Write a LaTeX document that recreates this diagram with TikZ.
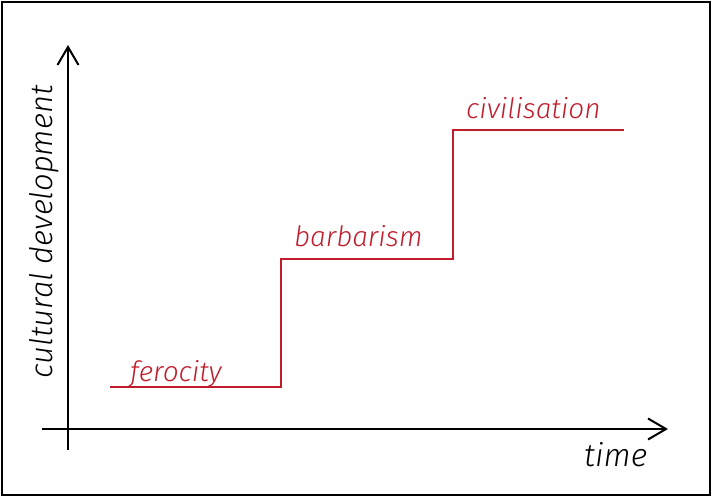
\documentclass[tikz,border=0pt]{standalone}
\usepackage{fontspec}
\newfontfamily\handfont{Fira Sans Light Italic}
\usetikzlibrary{arrows.meta,positioning,calc}
\definecolor{STEP-RED}{RGB}{192, 28, 44}

\begin{document}
\begin{tikzpicture}[x=1pt,y=-1pt,
  axis/.style={line width=1.8pt, -{Straight Barb[length=18pt,width=21pt,line width=2pt]}},
  stepline/.style={STEP-RED, line width=1.8pt},
  hand/.style={font=\handfont\fontsize{28}{32}\selectfont, inner sep=0pt}]
  % Frame
  \useasboundingbox (0,0) rectangle (712,497);
  \draw[line width=2pt] (2,2) rectangle (710,495);

  % Axes
  \coordinate (y0) at (68,450);
  \coordinate (y1) at (68,45);
  \coordinate (x0) at (42,429);
  \coordinate (x1) at (668,429);
  \draw[axis] (y0) -- (y1);
  \draw[axis] (x0) -- (x1);
  \node[hand, rotate=90, font=\handfont\fontsize{31}{34}\selectfont] (ylabel) at (44,232) {cultural development};
  \node[hand, anchor=base west, font=\handfont\fontsize{32}{36}\selectfont] (xlabel) at (584,466) {time};

  % Steps
  \coordinate (s0) at (110,387);
  \coordinate (s1) at (281,387);
  \coordinate (s2) at (281,259);
  \coordinate (s3) at (453,259);
  \coordinate (s4) at (453,130);
  \coordinate (s5) at (624,130);
  \draw[stepline] (s0) -- (s1) -- (s2) -- (s3) -- (s4) -- (s5);

  % Stage labels
  \node[hand, STEP-RED, anchor=base west] (ferocity) at (130,381) {ferocity};
  \node[hand, STEP-RED, anchor=base west] (barbarism) at (294,247) {barbarism};
  \node[hand, STEP-RED, anchor=base west] (civilisation) at (466,119) {civilisation};
\end{tikzpicture}
\end{document}
